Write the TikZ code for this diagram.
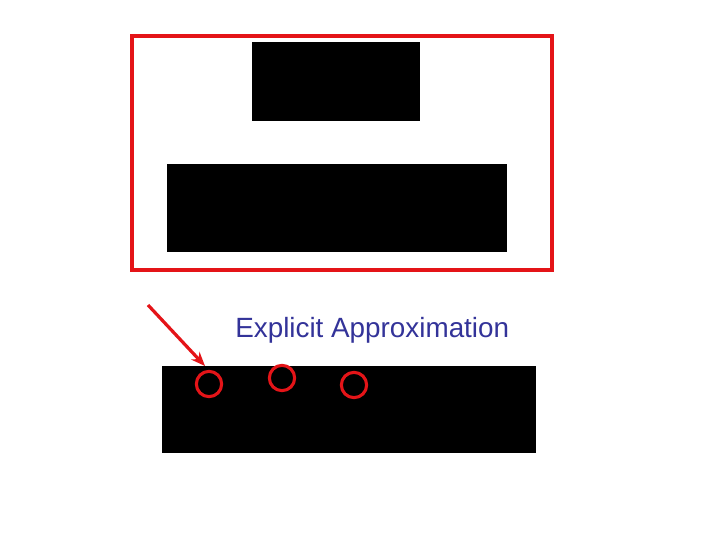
\documentclass[tikz,border=0pt]{standalone}
\usepackage{fontspec}
\setmainfont{Liberation Sans}
\usetikzlibrary{arrows.meta}
\definecolor{markred}{RGB}{228,20,24}
\definecolor{labelblue}{RGB}{51,51,153}
\begin{document}
\begin{tikzpicture}[>={Stealth[length=10pt,width=8pt]},x=0.025cm,y=-0.025cm,
		block/.style={fill=black,draw=none},
		frame/.style={draw=markred,line width=3pt},
		spot/.style={circle,draw=markred,line width=2.2pt,minimum size=18pt,inner sep=0pt}]
	\useasboundingbox (0,0) rectangle (720,540);
	\draw[frame] (132,36) rectangle (552,270);
	\fill[block] (252,42) rectangle (420,121);
	\fill[block] (167,164) rectangle (507,252);
	\fill[block] (162,366) rectangle (536,453);
	\node[text=labelblue,font=\fontsize{19.8}{23}\selectfont,anchor=base west,inner sep=0pt] (label) at (235,337) {Explicit Approximation};
	\node[spot] (s1) at (209,384) {};
	\node[spot] (s2) at (282,378) {};
	\node[spot] (s3) at (354,385) {};
	\coordinate (tail) at (148,305);
	\coordinate (tip) at (205,366);
	\draw[->,draw=markred,fill=markred,line width=2.3pt] (tail) -- (tip); % Mũi tên chỉ vào vòng tròn thứ nhất
\end{tikzpicture}
\end{document}
